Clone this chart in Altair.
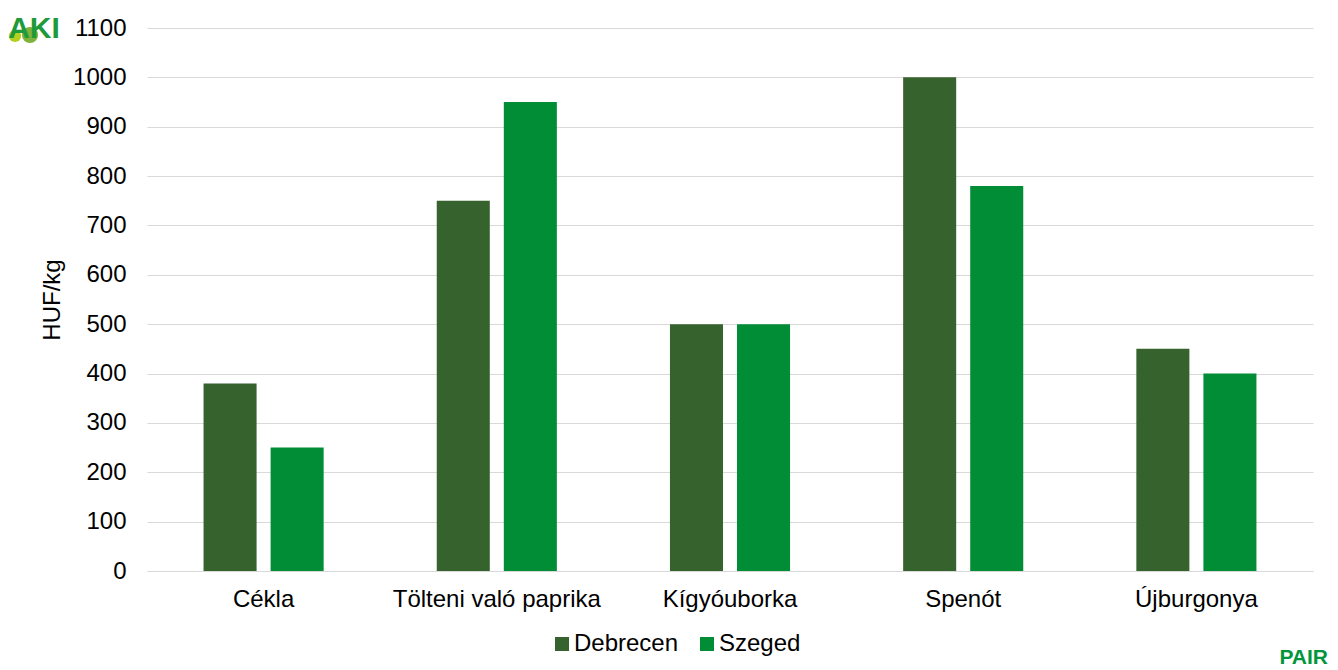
import altair as alt
import pandas as pd

categories = ["Cékla", "Tölteni való paprika", "Kígyóuborka", "Spenót", "Újburgonya"]
debrecen = [380, 750, 500, 1000, 450]
szeged = [250, 950, 500, 780, 400]
series = ["Debrecen", "Szeged"]
colors = ["#36622E", "#008D36"]

rows = []
for c, d, s in zip(categories, debrecen, szeged):
    rows.append({"cat": c, "city": "Debrecen", "val": d})
    rows.append({"cat": c, "city": "Szeged", "val": s})
df = pd.DataFrame(rows)

FONT = "Liberation Sans"
FS = 24

bars = alt.Chart(df).mark_bar().encode(
    x=alt.X("cat:N", sort=categories, title=None,
            scale=alt.Scale(paddingInner=0.485, paddingOuter=0.2425),
            axis=alt.Axis(labelAngle=0, labelFontSize=FS, labelFont=FONT, labelColor="#000000",
                          labelLimit=0, ticks=False, domainColor="#d9d9d9", domainWidth=1,
                          labelPadding=16)),
    xOffset=alt.XOffset("city:N", sort=series, scale=alt.Scale(paddingInner=0.209, paddingOuter=0)),
    y=alt.Y("val:Q", title="HUF/kg",
            scale=alt.Scale(domain=[0, 1100], nice=False),
            axis=alt.Axis(values=list(range(0, 1101, 100)), format="d", labelFontSize=FS, labelFont=FONT,
                          labelColor="#000000", ticks=False, domain=False, gridColor="#d9d9d9",
                          labelPadding=21, titleFontSize=FS, titleFont=FONT, titleColor="#000000",
                          titleFontWeight="normal", titlePadding=8)),
    color=alt.Color("city:N", sort=series, scale=alt.Scale(domain=series, range=colors),
                    legend=alt.Legend(title=None, orient="none", legendX=403, legendY=604,
                                      direction="horizontal", symbolType="square", symbolSize=196,
                                      symbolStrokeWidth=0, labelFontSize=FS, labelFont=FONT,
                                      labelColor="#000000", columnPadding=16, labelOffset=0)),
)

one = pd.DataFrame([{"a": 1}])
hill1 = alt.Chart(one).mark_circle(size=150, color="#b5cf1f", opacity=1).encode(
    x=alt.value(-132), y=alt.value(8))
hill2 = alt.Chart(one).mark_circle(size=260, color="#7fb23a", opacity=1).encode(
    x=alt.value(-117), y=alt.value(7))
aki = alt.Chart(one).mark_text(text="AKI", font=FONT, fontSize=30, fontWeight="bold",
                               color="#1f9a3a", align="center", baseline="alphabetic").encode(
    x=alt.value(-113), y=alt.value(10))
pair = alt.Chart(one).mark_text(text="PAIR", font=FONT, fontSize=21, fontWeight="bold",
                                color="#00963c", align="right", baseline="alphabetic").encode(
    x=alt.value(1181), y=alt.value(636))

chart = alt.layer(bars, hill1, hill2, aki, pair).properties(
    width=1166, height=543,
    autosize=alt.AutoSizeParams(type="none"),
    padding={"left": 139, "top": 20, "right": 16, "bottom": 100},
).configure_view(stroke=None)

chart.save("out.html", embed_options={"renderer": "svg", "actions": False})
